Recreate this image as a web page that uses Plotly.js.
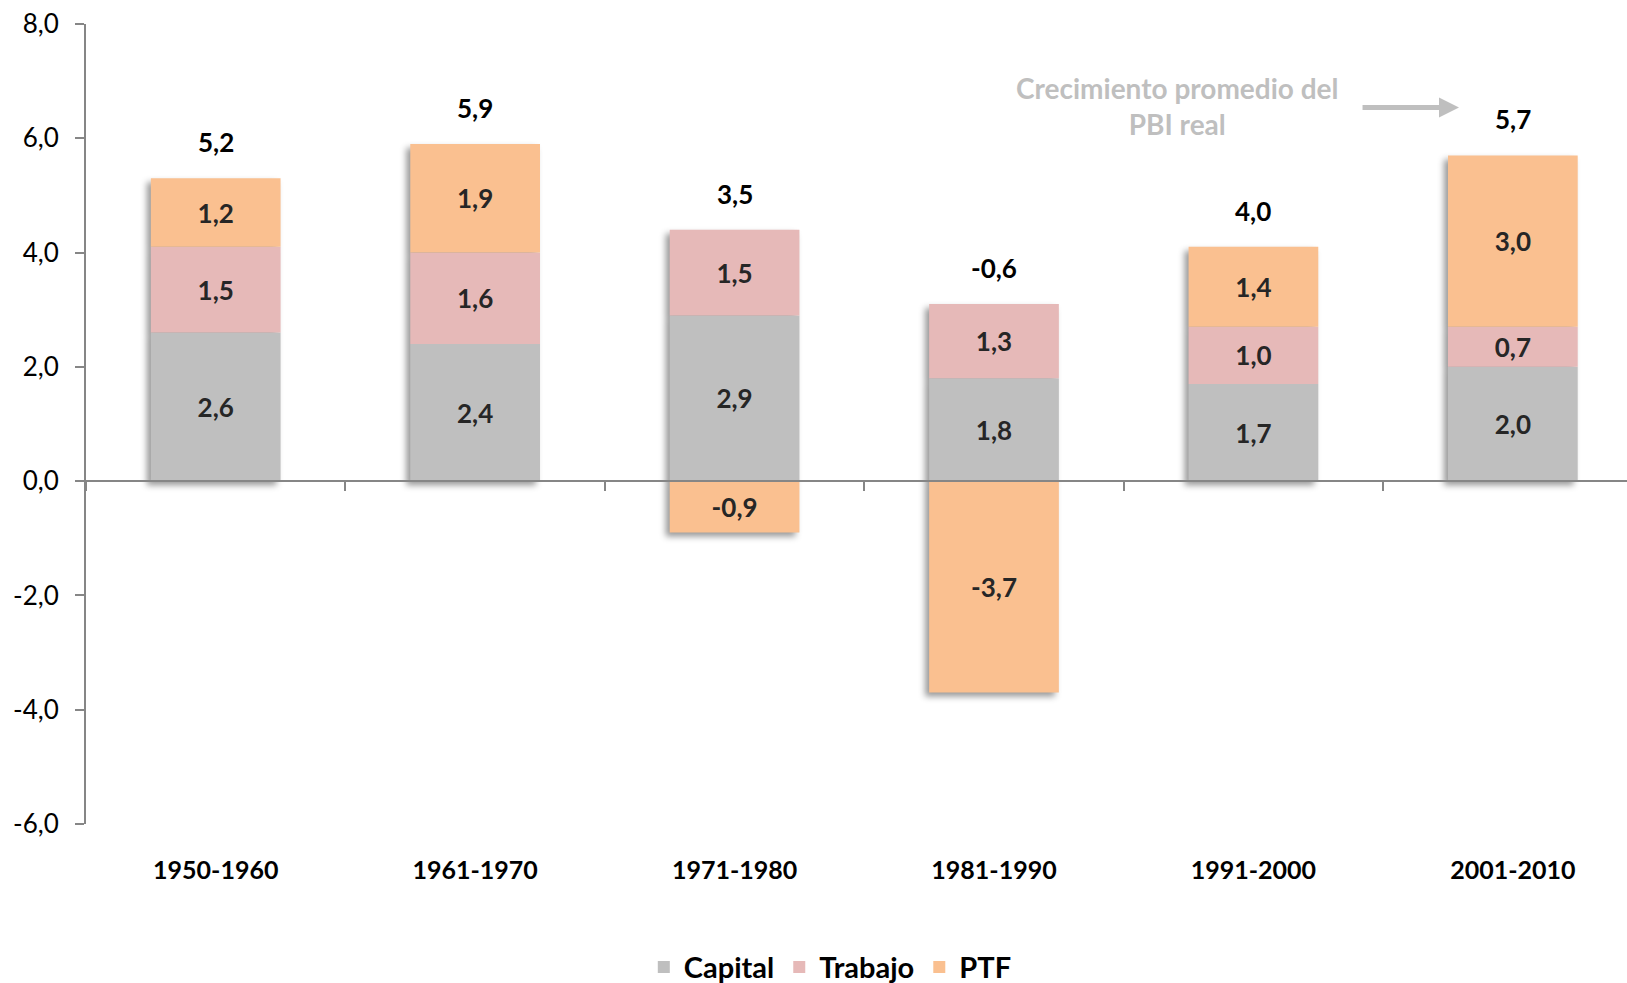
<!DOCTYPE html>
<html><head><meta charset="utf-8">
<script src="https://cdn.plot.ly/plotly-3.0.1.min.js"></script>
<style>
html,body{margin:0;padding:0;background:#fff;}
#chart{width:1627px;height:983px;}
.overplot > .xy .barlayer{filter:drop-shadow(-4px 4px 3px rgba(0,0,0,0.4));}
</style></head><body><div id="chart"></div>
<script>
const categories = ['1950-1960','1961-1970','1971-1980','1981-1990','1991-2000','2001-2010'];
const capital = [2.6, 2.4, 2.9, 1.8, 1.7, 2.0];
const trabajo = [1.5, 1.6, 1.5, 1.3, 1.0, 0.7];
const ptf     = [1.2, 1.9, -0.9, -3.7, 1.4, 3.0];
const totalPBI = [5.2, 5.9, 3.5, -0.6, 4.0, 5.7];
const yTickVals = [-6, -4, -2, 0, 2, 4, 6, 8];
const yTickText = ['-6,0', '-4,0', '-2,0', '0,0', '2,0', '4,0', '6,0', '8,0'];
const seriesNames = ['Capital', 'Trabajo', 'PTF'];
const annotationText = 'Crecimiento promedio del<br>PBI real';

const seriesValues = [capital, trabajo, ptf];
const seriesColors = ['#BFBFBF', '#E6B9B8', '#FAC090'];
const FONT = 'Lato, "Open Sans", sans-serif';
const fmt = v => v.toFixed(1).replace('.', ',');

const yMin = Math.min(...yTickVals), yMax = Math.max(...yTickVals);
const xRange = [-0.5, 5.44];

const traces = [];
// colored bars (with shadow), no text
seriesValues.forEach((vals, i) => {
  traces.push({
    type: 'bar', x: categories, y: vals, name: seriesNames[i],
    marker: {color: seriesColors[i], line: {width: 0}},
    textposition: 'none', hoverinfo: 'skip', xaxis: 'x', yaxis: 'y'
  });
});
// text layer (transparent bars carrying the labels)
seriesValues.forEach((vals, i) => {
  traces.push({
    type: 'bar', x: categories, y: vals, name: seriesNames[i], showlegend: false,
    marker: {color: 'rgba(0,0,0,0)', line: {width: 0}},
    text: vals.map(fmt), textposition: 'inside', insidetextanchor: 'middle',
    textangle: 0, constraintext: 'none',
    textfont: {family: FONT, size: 26, weight: 700, color: '#262626'},
    hoverinfo: 'skip', xaxis: 'x2', yaxis: 'y2'
  });
});

const posTop = categories.map((c, k) => seriesValues.reduce((s, v) => s + Math.max(0, v[k]), 0));
const annotations = categories.map((c, k) => ({
  x: c, y: posTop[k], xref: 'x', yref: 'y', text: fmt(totalPBI[k]),
  showarrow: false, yanchor: 'bottom', yshift: 18,
  font: {family: FONT, size: 26, weight: 700, color: '#000'}
}));
annotations.push({
  xref: 'paper', yref: 'paper', x: 0.708, y: 0.8975, text: annotationText,
  showarrow: false, align: 'center', xanchor: 'center', yanchor: 'middle',
  font: {family: FONT, size: 28, weight: 700, color: '#BFBFBF'}
});
annotations.push({
  xref: 'paper', yref: 'paper', x: 0.891, y: 0.8955, ax: -98, ay: 0, text: '',
  showarrow: true, arrowhead: 2, arrowsize: 0.8, arrowwidth: 5, arrowcolor: '#BFBFBF'
});

const axisGray = '#868686';
const layout = {
  width: 1627, height: 983,
  margin: {l: 86, r: 0, t: 24, b: 159, autoexpand: false},
  barmode: 'relative', bargap: 0.5,
  paper_bgcolor: '#fff', plot_bgcolor: '#fff',
  font: {family: FONT, color: '#000'},
  showlegend: true,
  xaxis: {
    type: 'category', range: xRange, anchor: 'free', position: (0 - yMin) / (yMax - yMin),
    showline: true, linecolor: axisGray, linewidth: 2,
    ticks: 'outside', tickson: 'boundaries', ticklen: 9, tickcolor: axisGray, tickwidth: 2,
    ticklabelstandoff: 367, automargin: false,
    tickfont: {family: FONT, size: 25, weight: 700, color: '#000'},
    showgrid: false, zeroline: false, fixedrange: true
  },
  yaxis: {
    range: [yMin, yMax], tickvals: yTickVals, ticktext: yTickText,
    showline: true, linecolor: axisGray, linewidth: 2,
    ticks: 'outside', ticklen: 9, tickcolor: axisGray, tickwidth: 2,
    ticklabelstandoff: 11, automargin: false,
    tickfont: {family: FONT, size: 26, color: '#000'},
    showgrid: false, zeroline: false, fixedrange: true
  },
  xaxis2: {type: 'category', overlaying: 'x', anchor: 'y2', range: xRange, visible: false, fixedrange: true},
  yaxis2: {overlaying: 'y', anchor: 'x2', range: [yMin, yMax], visible: false, fixedrange: true},
  legend: {
    orientation: 'h', x: 0.483, xanchor: 'center', y: -0.179, yanchor: 'middle',
    font: {family: FONT, size: 29, weight: 700, color: '#000'}, traceorder: 'normal'
  },
  annotations: annotations
};

Plotly.newPlot('chart', traces, layout, {displayModeBar: false, staticPlot: true});
</script></body></html>
